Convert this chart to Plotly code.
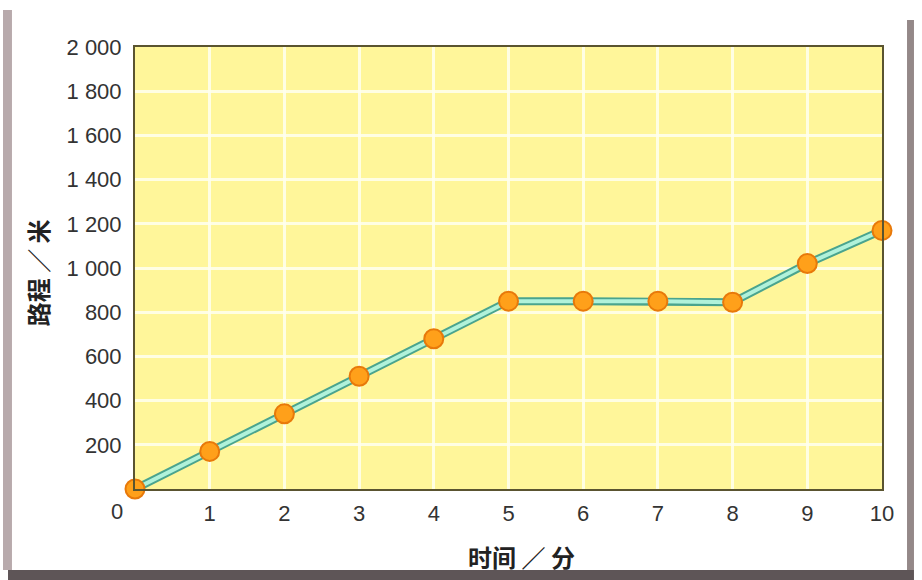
import plotly.graph_objects as go

minutes = [0, 1, 2, 3, 4, 5, 6, 7, 8, 9, 10]
distance = [0, 170, 340, 510, 680, 850, 850, 850, 845, 1020, 1170]
y_ticks = [200, 400, 600, 800, 1000, 1200, 1400, 1600, 1800, 2000]
y_labels = ["200", "400", "600", "800", "1 000", "1 200", "1 400", "1 600", "1 800", "2 000"]
x_ticks = [1, 2, 3, 4, 5, 6, 7, 8, 9, 10]
x_labels = ["1", "2", "3", "4", "5", "6", "7", "8", "9", "10"]

fig = go.Figure()
fig.add_trace(go.Scatter(x=minutes, y=distance, mode="lines",
                         line=dict(color="#4aa48e", width=8), cliponaxis=False,
                         hoverinfo="skip", showlegend=False))
fig.add_trace(go.Scatter(x=minutes, y=distance, mode="lines",
                         line=dict(color="#b0f2da", width=4), cliponaxis=False,
                         hoverinfo="skip", showlegend=False))
fig.add_trace(go.Scatter(x=minutes, y=distance, mode="markers",
                         marker=dict(size=19, color="#ffa01a",
                                     line=dict(color="#e8790a", width=2)),
                         cliponaxis=False, showlegend=False))

tick_font = dict(family="Liberation Sans, Arial, sans-serif", size=22, color="#333333")
title_font = dict(family="Noto Sans CJK SC", size=24, color="#222222", weight="bold")

fig.update_layout(
    width=922, height=580,
    margin=dict(l=135, r=40, t=47, b=91),
    paper_bgcolor="white",
    plot_bgcolor="#fff69a",
    xaxis=dict(range=[0, 10], tickvals=x_ticks, ticktext=x_labels,
               showgrid=True, gridcolor="rgba(255,255,240,0.85)", gridwidth=3,
               zeroline=False, showline=True, linecolor="#5a5430", linewidth=2,
               mirror=True, ticks="", tickfont=tick_font, ticklabelstandoff=4),
    yaxis=dict(range=[0, 2000], tickvals=y_ticks, ticktext=y_labels,
               showgrid=True, gridcolor="rgba(255,255,240,0.85)", gridwidth=3,
               zeroline=False, showline=True, linecolor="#5a5430", linewidth=2,
               mirror=True, ticks="", tickfont=tick_font, ticklabelstandoff=7),
    annotations=[
        dict(text="0", xref="paper", yref="paper", x=-0.024, y=-0.05,
             xanchor="center", yanchor="middle", showarrow=False, font=tick_font),
        dict(text="时间 ∕ 分", xref="paper", yref="paper", x=0.518, y=-0.152,
             xanchor="center", yanchor="middle", showarrow=False, font=title_font),
        dict(text="路程 ∕ 米", xref="paper", yref="paper", x=-0.13, y=0.49,
             xanchor="center", yanchor="middle", textangle=-90, showarrow=False,
             font=title_font),
    ],
    shapes=[
        dict(type="rect", xref="paper", yref="paper", x0=-0.1767, x1=-0.1647,
             y0=-0.1833, y1=1.0837, line=dict(width=0), fillcolor="#b8aaac", layer="below"),
        dict(type="rect", xref="paper", yref="paper", x0=1.0335, x1=1.0428,
             y0=-0.1833, y1=1.061, line=dict(width=0), fillcolor="#948888", layer="below"),
        dict(type="rect", xref="paper", yref="paper", x0=-0.17, x1=1.0428,
             y0=-0.2059, y1=-0.1833, line=dict(width=0), fillcolor="#5e5557", layer="below"),
    ],
)

fig.write_html("out.html", config={"displayModeBar": False},
               post_script="document.body.style.margin='0';document.body.style.overflow='hidden';")
